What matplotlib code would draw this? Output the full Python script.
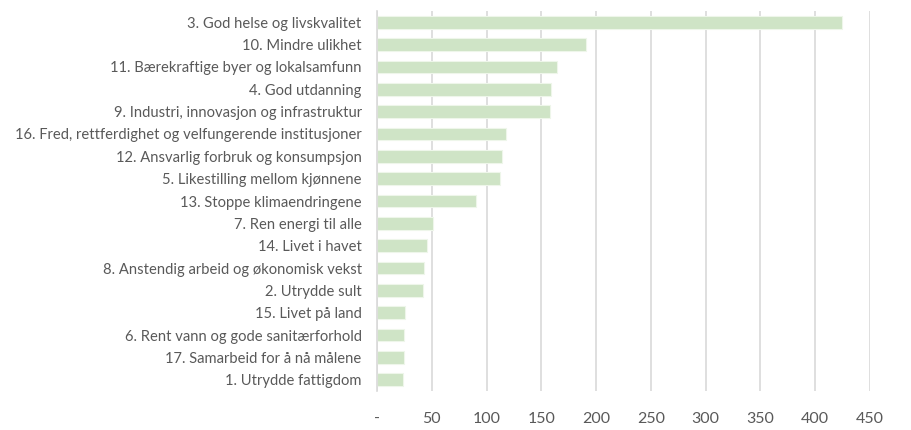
import matplotlib
matplotlib.use("Agg")
import matplotlib.pyplot as plt
from matplotlib.ticker import FixedLocator, FixedFormatter

categories = [
    "3. God helse og livskvalitet",
    "10. Mindre ulikhet",
    "11. Bærekraftige byer og lokalsamfunn",
    "4. God utdanning",
    "9. Industri, innovasjon og infrastruktur",
    "16. Fred, rettferdighet og velfungerende institusjoner",
    "12. Ansvarlig forbruk og konsumpsjon",
    "5. Likestilling mellom kjønnene",
    "13. Stoppe klimaendringene",
    "7. Ren energi til alle",
    "14. Livet i havet",
    "8. Anstendig arbeid og økonomisk vekst",
    "2. Utrydde sult",
    "15. Livet på land",
    "6. Rent vann og gode sanitærforhold",
    "17. Samarbeid for å nå målene",
    "1. Utrydde fattigdom",
]
values = [424, 191, 164, 159, 158, 118, 114, 112, 90, 51, 46, 43, 42, 26, 25, 25, 24]
xticks = [0, 50, 100, 150, 200, 250, 300, 350, 400, 450]
xticklabels = ["-", "50", "100", "150", "200", "250", "300", "350", "400", "450"]

plt.rcParams['font.family'] = ['Lato', 'DejaVu Sans']
text_color = "#595959"

fig = plt.figure(figsize=(9.12, 4.30), dpi=100)
ax = fig.add_axes([377/912, 1 - 391/430, (870 - 377)/912, (391 - 11)/430])

ypos = list(range(len(categories)))
ax.barh(ypos, values, height=0.57, color="#cfe4c6", edgecolor="#eef6ea", linewidth=0.8, zorder=2)
ax.set_ylim(len(categories) - 0.5, -0.5)
ax.set_xlim(0, 450)

ax.set_yticks(ypos)
ax.set_yticklabels(categories, fontsize=10.6, color=text_color)
ax.xaxis.set_major_locator(FixedLocator(xticks))
ax.xaxis.set_major_formatter(FixedFormatter(xticklabels))
for lbl in ax.get_xticklabels():
    lbl.set_fontsize(11.5)
    lbl.set_color(text_color)

ax.tick_params(axis='y', length=0, pad=11)
ax.tick_params(axis='x', length=0, pad=15)

ax.grid(axis='x', color="#d9d9d9", linewidth=1.2, zorder=0)
for s in ["top", "right", "bottom"]:
    ax.spines[s].set_visible(False)
ax.spines["left"].set_color("#d9d9d9")
ax.spines["left"].set_linewidth(1.2)

fig.savefig("out.png", dpi=100)
